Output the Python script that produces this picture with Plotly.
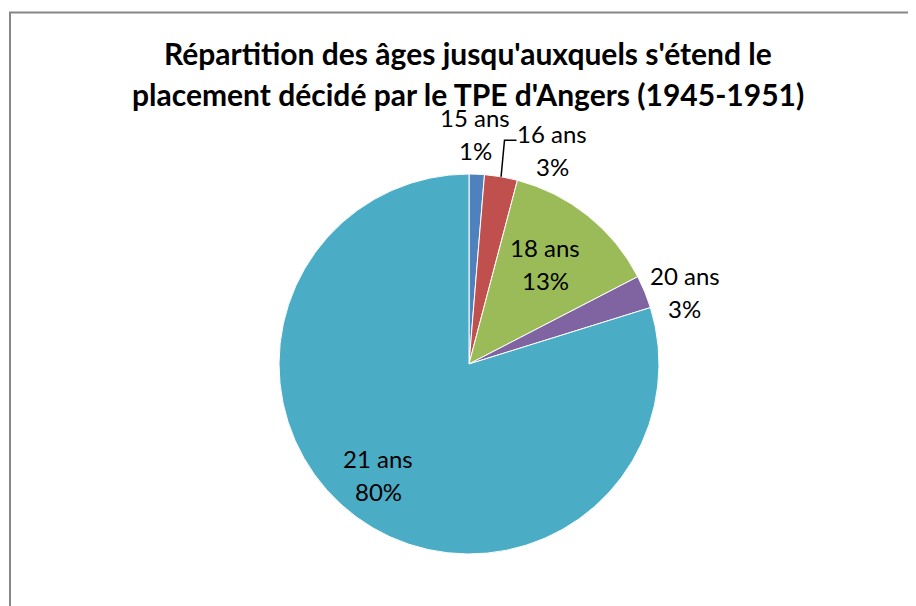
import math
import plotly.graph_objects as go

W, H = 916, 606
OFF = 8  # page body margin in the browser

categories = ["15 ans", "16 ans", "18 ans", "20 ans", "21 ans"]
values = [1.3, 2.8, 13.3, 2.8, 79.8]
pct_labels = ["1%", "3%", "13%", "3%", "80%"]
colors = ["#4F81BD", "#C0504D", "#9BBB59", "#8064A2", "#4BACC6"]
title_lines = ["Répartition des âges jusqu'auxquels s'étend le",
               "placement décidé par le TPE d'Angers (1945-1951)"]

# pie geometry in screen pixels
CX, CY, R = 469, 364, 190
# label radial factor and pixel offsets (styling)
label_r = [1.214, 1.2, 0.66, 1.2, 0.76]
label_dx = [-3, 45, -2, 5, -5]
label_dy = [0, 11, -2, 15, -5]


def px2paper(x, y):
    return (x - OFF) / W, 1 - (y - OFF) / H


fig = go.Figure()
x0, y0 = px2paper(CX - R, CY + R)
x1, y1 = px2paper(CX + R, CY - R)
fig.add_trace(go.Pie(
    labels=categories, values=values, sort=False, direction="clockwise",
    rotation=0, marker=dict(colors=colors, line=dict(color="white", width=1)),
    textinfo="none", hoverinfo="label+percent", showlegend=False,
    domain=dict(x=[x0, x1], y=[y0, y1]),
))

total = sum(values)
cum = 0
annotations = []
shapes = []
for i, (c, v) in enumerate(zip(categories, values)):
    mid = (cum + v / 2) / total * 2 * math.pi
    cum += v
    d = R * label_r[i]
    px = CX + d * math.sin(mid) + label_dx[i]
    py = CY - d * math.cos(mid) + label_dy[i]
    for k, t in enumerate([c, pct_labels[i]]):
        ax, ay = px2paper(px, py + (k - 0.5) * 33)
        annotations.append(dict(
            x=ax, y=ay, xref="paper", yref="paper",
            text=t, showarrow=False,
            font=dict(family="Lato", size=24, color="#000000"),
            xanchor="center", yanchor="middle",
        ))
    if c == "16 ans":
        ex, ey = px2paper(CX + R * math.sin(mid), CY - R * math.cos(mid))
        bx, by = px2paper(px - 48, py - 10)
        fx, fy = px2paper(px - 36, py - 10)
        shapes.append(dict(type="path", xref="paper", yref="paper",
                           path=f"M {ex},{ey} L {bx},{by} L {fx},{fy}",
                           line=dict(color="#000000", width=1.5)))

for j, line in enumerate(title_lines):
    ax, ay = px2paper(468, 53 + 41 * j)
    annotations.append(dict(
        x=ax, y=ay, xref="paper", yref="paper",
        text=f"<b>{line}</b>", showarrow=False,
        font=dict(family="Lato", size=30, color="#000000"),
        xanchor="center", yanchor="middle",
    ))

bx0, by1 = px2paper(10, 12.5)
shapes.append(dict(type="rect", xref="paper", yref="paper",
                   x0=bx0, x1=1.05, y0=-0.05, y1=by1,
                   line=dict(color="#868686", width=2)))

fig.update_layout(
    width=W, height=H, margin=dict(l=0, r=0, t=0, b=0),
    paper_bgcolor="white", plot_bgcolor="white",
    annotations=annotations, shapes=shapes,
)
fig.write_html("out.html")
